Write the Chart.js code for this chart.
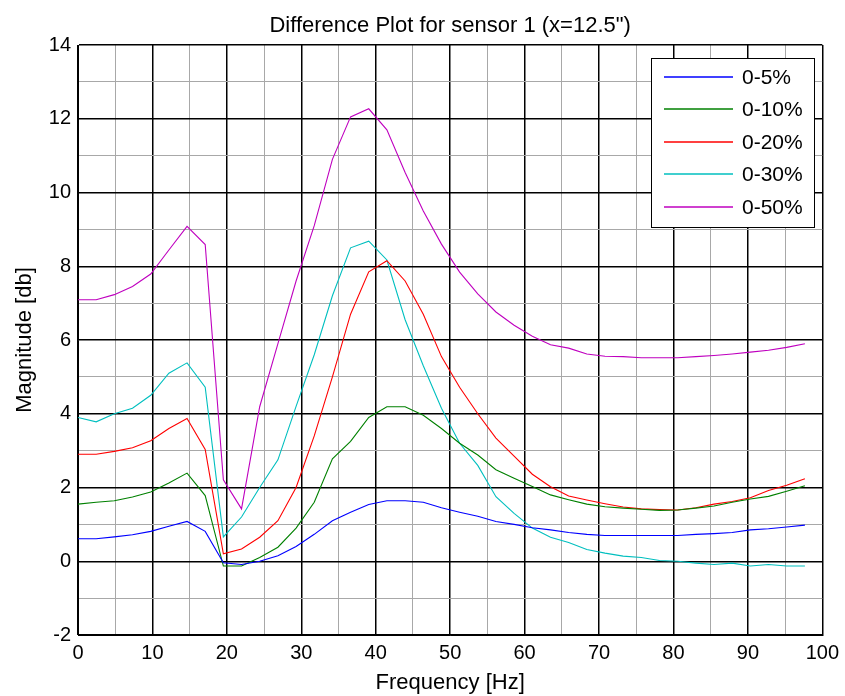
<!DOCTYPE html>
<html>
<head>
<meta charset="utf-8">
<title>Difference Plot for sensor 1</title>
<script src="https://cdn.jsdelivr.net/npm/chart.js@4.4.1/dist/chart.umd.min.js"></script>
<style>
  html, body { margin: 0; padding: 0; background: #fff; }
  #wrap { width: 845px; height: 696px; }
</style>
</head>
<body>
<div id="wrap"><canvas id="diffChart" width="845" height="696"></canvas></div>
<script>
/* ─── Data ─── */
const freqHz = [0, 2.44, 4.88, 7.32, 9.77, 12.21, 14.65, 17.09, 19.53, 21.97,
  24.41, 26.86, 29.30, 31.74, 34.18, 36.62, 39.06, 41.50, 43.95, 46.39,
  48.83, 51.27, 53.71, 56.15, 58.59, 61.04, 63.48, 65.92, 68.36, 70.80,
  73.24, 75.68, 78.13, 80.57, 83.01, 85.45, 87.89, 90.33, 92.77, 95.21, 97.66];

const diff5 = [0.61, 0.61, 0.66, 0.72, 0.81, 0.95, 1.08, 0.81, -0.04, -0.09,
  0.0, 0.15, 0.40, 0.73, 1.10, 1.33, 1.54, 1.64, 1.64, 1.60,
  1.45, 1.33, 1.22, 1.08, 1.00, 0.91, 0.85, 0.78, 0.73, 0.70,
  0.70, 0.70, 0.70, 0.70, 0.73, 0.75, 0.78, 0.85, 0.88, 0.93, 0.98];

const diff10 = [1.55, 1.60, 1.64, 1.74, 1.88, 2.12, 2.39, 1.78, -0.13, -0.13,
  0.10, 0.38, 0.90, 1.60, 2.78, 3.25, 3.90, 4.19, 4.19, 3.96,
  3.60, 3.20, 2.88, 2.48, 2.25, 2.03, 1.80, 1.67, 1.55, 1.48,
  1.44, 1.41, 1.38, 1.39, 1.44, 1.50, 1.60, 1.69, 1.76, 1.90, 2.05];

const diff20 = [2.90, 2.90, 2.98, 3.08, 3.27, 3.60, 3.87, 3.03, 0.20, 0.33,
  0.65, 1.10, 2.00, 3.40, 5.00, 6.70, 7.85, 8.15, 7.60, 6.70,
  5.55, 4.72, 4.00, 3.34, 2.85, 2.36, 2.02, 1.77, 1.66, 1.56,
  1.47, 1.42, 1.40, 1.39, 1.45, 1.55, 1.62, 1.72, 1.92, 2.06, 2.24];

const diff30 = [3.90, 3.78, 4.00, 4.15, 4.50, 5.10, 5.38, 4.72, 0.66, 1.20,
  2.00, 2.75, 4.20, 5.60, 7.20, 8.50, 8.68, 8.17, 6.55, 5.30,
  4.15, 3.20, 2.60, 1.75, 1.30, 0.90, 0.65, 0.51, 0.32, 0.22,
  0.14, 0.10, 0.02, 0.0, -0.05, -0.09, -0.05, -0.13, -0.09, -0.13, -0.13];

const diff50 = [7.09, 7.09, 7.23, 7.45, 7.79, 8.44, 9.08, 8.59, 2.21, 1.42,
  4.19, 5.90, 7.60, 9.10, 10.90, 12.05, 12.27, 11.70, 10.54, 9.50,
  8.60, 7.84, 7.25, 6.76, 6.40, 6.10, 5.87, 5.78, 5.62, 5.56,
  5.55, 5.52, 5.52, 5.52, 5.55, 5.58, 5.62, 5.67, 5.72, 5.80, 5.90];

const seriesLabels = ["0-5%", "0-10%", "0-20%", "0-30%", "0-50%"];
const seriesColors = ["#0000ff", "#008000", "#ff0000", "#00bfbf", "#bf00bf"];
const seriesValues = [diff5, diff10, diff20, diff30, diff50];

const FONT = "'Liberation Sans', Arial, Helvetica, sans-serif";

/* ─── Title, axis titles and boxed legend, MATLAB style ─── */
const matlabDecor = {
  id: "matlabDecor",
  afterDraw(chart) {
    const { ctx, chartArea: a } = chart;
    const midX = (a.left + a.right) / 2;
    ctx.save();
    ctx.fillStyle = "#000";
    ctx.textBaseline = "alphabetic";
    ctx.textAlign = "center";

    ctx.font = "22px " + FONT;
    ctx.fillText('Difference Plot for sensor 1 (x=12.5")', midX, 32);
    ctx.fillText("Frequency [Hz]", midX, 689);

    ctx.save();
    ctx.translate(31, (a.top + a.bottom) / 2);
    ctx.rotate(-Math.PI / 2);
    ctx.fillText("Magnitude [db]", 0, 0);
    ctx.restore();

    /* legend box */
    const bx = 651, by = 58, bw = 163, bh = 169;
    ctx.fillStyle = "#fff";
    ctx.fillRect(bx, by, bw, bh);
    ctx.strokeStyle = "#000";
    ctx.lineWidth = 1;
    ctx.strokeRect(bx + 0.5, by + 0.5, bw, bh);

    ctx.font = "21px " + FONT;
    ctx.textAlign = "left";
    ctx.textBaseline = "middle";
    seriesLabels.forEach((label, i) => {
      const y = Math.round(77 + i * 32.4);
      ctx.strokeStyle = seriesColors[i];
      ctx.lineWidth = 1.6;
      ctx.beginPath();
      ctx.moveTo(664, y);
      ctx.lineTo(733, y);
      ctx.stroke();
      ctx.fillStyle = "#000";
      ctx.fillText(label, 742, y + 1);
    });
    ctx.restore();
  },
};

function gridColor(ctx, major) {
  return ctx.tick && ctx.tick.value % major === 0 ? "#000" : "#a8a8a8";
}
function gridWidth(ctx, major) {
  return ctx.tick && ctx.tick.value % major === 0 ? 1.5 : 1;
}

/* ─── Chart ─── */
new Chart(document.getElementById("diffChart"), {
  type: "line",
  data: {
    datasets: seriesValues.map((vals, i) => ({
      label: seriesLabels[i],
      data: freqHz.map((f, k) => ({ x: f, y: vals[k] })),
      borderColor: seriesColors[i],
      backgroundColor: seriesColors[i],
      borderWidth: 1.1,
      pointRadius: 0,
      tension: 0,
      fill: false,
    })),
  },
  options: {
    responsive: false,
    animation: false,
    layout: { padding: { top: 45, right: 21, left: 0, bottom: 0 } },
    plugins: {
      legend: { display: false },
      title: { display: false },
      tooltip: { enabled: false },
    },
    scales: {
      x: {
        type: "linear",
        min: 0, max: 100,
        afterFit(s) { s.height = 61; },
        ticks: {
          stepSize: 5,
          autoSkip: false,
          maxRotation: 0,
          padding: 6,
          color: "#000",
          font: { family: FONT, size: 20 },
          callback: v => (v % 10 === 0 ? v : ""),
        },
        grid: {
          drawTicks: false,
          color: c => gridColor(c, 10),
          lineWidth: c => gridWidth(c, 10),
        },
        border: { display: true, color: "#000", width: 1 },
      },
      y: {
        type: "linear",
        min: -2, max: 14,
        afterFit(s) { s.width = 78; },
        ticks: {
          stepSize: 1,
          autoSkip: false,
          padding: 7,
          color: "#000",
          font: { family: FONT, size: 20 },
          callback: v => (v % 2 === 0 ? v : ""),
        },
        grid: {
          drawTicks: false,
          color: c => gridColor(c, 2),
          lineWidth: c => gridWidth(c, 2),
        },
        border: { display: true, color: "#000", width: 1 },
      },
    },
  },
  plugins: [matlabDecor],
});
</script>
</body>
</html>
